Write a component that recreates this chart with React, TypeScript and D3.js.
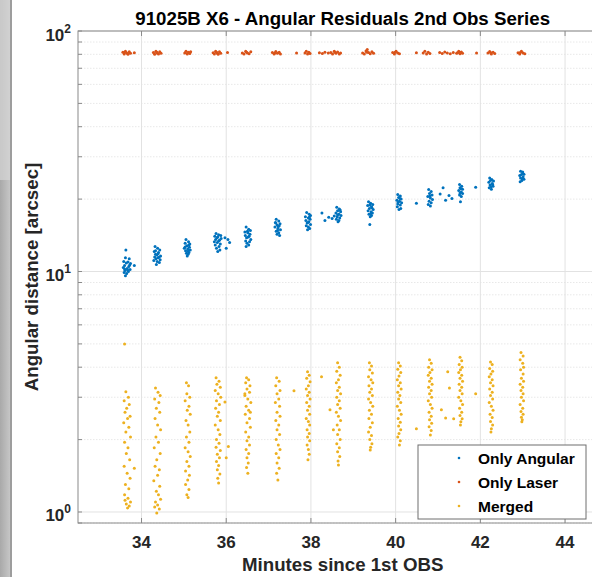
import React from 'react';
import * as d3 from 'd3';

const W = 592;
const H = 577;

const titleText = '91025B X6 - Angular Residuals 2nd Obs Series';
const xLabelText = 'Minutes since 1st OBS';
const yLabelText = 'Angular distance [arcsec]';
const xTicks = [34, 36, 38, 40, 42, 44];
const yDecades = [1, 10, 100];
const yDecadeExp = ['0', '1', '2'];
const seriesNames = ['Only Angular', 'Only Laser', 'Merged'];
const seriesColors = ['#0072BD', '#D95319', '#EDB120'];

// [minutes, arcsec]
const onlyAngular: [number, number][] = [
  [33.63,12.3],[33.62,11.4],[33.71,11.3],[33.58,11.0],[33.68,10.95],[33.74,10.8],[33.60,10.6],[33.70,10.5],[33.57,10.4],[33.66,10.3],[33.73,10.2],[33.61,10.1],[33.69,10.0],[33.59,9.9],[33.65,9.8],[33.62,9.6],[33.72,10.65],[33.64,10.85],[33.67,10.15],[33.60,10.25],[33.83,10.6],
  [34.32,12.7],[34.38,12.5],[34.43,12.3],[34.30,12.1],[34.40,12.0],[34.33,11.8],[34.36,11.7],[34.45,11.6],[34.31,11.5],[34.39,11.4],[34.34,11.3],[34.44,11.2],[34.29,11.1],[34.37,11.0],[34.42,10.9],[34.35,10.7],[34.41,11.45],[34.33,12.2],[34.39,11.85],
  [35.05,13.6],[35.11,13.3],[35.03,13.1],[35.14,13.0],[35.07,12.8],[35.13,12.6],[35.01,12.5],[35.09,12.4],[35.15,12.3],[35.04,12.2],[35.12,12.0],[35.06,11.9],[35.10,11.8],[35.08,11.6],[35.12,12.9],[35.03,12.65],[35.10,12.15],
  [35.76,14.4],[35.82,14.2],[35.87,14.1],[35.73,14.0],[35.80,13.9],[35.88,13.7],[35.75,13.6],[35.84,13.5],[35.72,13.3],[35.79,13.2],[35.86,13.0],[35.74,12.9],[35.83,12.7],[35.77,12.5],[35.85,12.3],[35.80,12.1],[35.78,13.8],[35.82,13.4],[35.97,13.8],[36.04,13.6],[36.08,13.2],[36.00,12.5],
  [36.47,15.3],[36.53,15.0],[36.57,14.8],[36.44,14.6],[36.51,14.5],[36.56,14.3],[36.45,14.1],[36.54,14.0],[36.48,13.8],[36.58,13.6],[36.46,13.4],[36.55,13.3],[36.49,13.1],[36.53,12.9],[36.47,12.7],[36.52,13.9],[36.50,14.7],
  [37.18,16.5],[37.24,16.2],[37.16,16.0],[37.27,15.8],[37.20,15.6],[37.25,15.5],[37.15,15.3],[37.22,15.1],[37.28,14.9],[37.18,14.7],[37.24,14.5],[37.20,14.3],[37.26,14.1],[37.17,15.9],[37.23,15.4],[37.21,14.8],
  [37.90,17.6],[37.96,17.3],[37.99,17.1],[37.87,16.9],[37.94,16.7],[37.98,16.5],[37.88,16.3],[37.95,16.1],[37.91,15.9],[37.99,15.7],[37.89,15.5],[37.94,15.3],[37.97,15.1],[37.92,14.9],[37.93,16.0],[37.96,16.8],[38.26,17.5],[38.33,16.3],[38.42,16.8],[38.50,16.6],[38.55,17.0],
  [38.61,18.5],[38.67,18.2],[38.63,17.9],[38.70,17.7],[38.59,17.5],[38.66,17.3],[38.71,17.1],[38.62,16.9],[38.68,16.7],[38.60,16.5],[38.66,16.3],[38.64,16.1],[38.69,18.0],[38.63,17.2],
  [39.36,19.5],[39.41,19.2],[39.46,19.0],[39.34,18.8],[39.43,18.6],[39.38,18.3],[39.47,18.1],[39.35,17.9],[39.42,17.7],[39.45,17.5],[39.37,17.3],[39.43,17.1],[39.40,16.9],[39.39,15.7],[39.44,18.4],[39.39,18.9],[39.41,17.4],
  [40.05,20.9],[40.11,20.6],[40.07,20.3],[40.13,20.0],[40.03,19.8],[40.09,19.6],[40.14,19.3],[40.05,19.1],[40.11,18.9],[40.04,18.6],[40.12,18.3],[40.08,18.1],[40.10,20.1],[40.06,19.4],[40.49,19.2],
  [40.78,21.9],[40.84,21.5],[40.80,21.1],[40.86,20.8],[40.76,20.5],[40.82,20.2],[40.87,19.9],[40.79,19.6],[40.84,19.3],[40.77,19.0],[40.82,18.7],[40.81,20.6],[41.05,21.0],[41.12,22.3],[41.18,19.8],[41.26,20.7],[41.33,20.1],
  [41.51,23.0],[41.56,22.6],[41.52,22.3],[41.58,22.0],[41.49,21.7],[41.55,21.4],[41.58,21.1],[41.51,20.8],[41.55,20.5],[41.53,19.5],[41.54,22.1],[41.52,21.2],[41.89,22.4],
  [42.22,24.5],[42.27,24.1],[42.31,23.8],[42.20,23.5],[42.28,23.2],[42.23,22.9],[42.30,22.6],[42.21,22.3],[42.26,22.0],[42.29,23.0],[42.24,23.9],[42.25,22.5],
  [42.95,26.1],[43.00,25.7],[43.03,25.4],[42.93,25.1],[43.01,24.8],[42.95,24.5],[43.03,24.2],[42.98,23.9],[42.94,23.6],[43.00,25.9],[42.97,25.3],[42.99,24.3],
];

const onlyLaser: [number, number][] = [
  [33.56,81.5],[33.59,80.2],[33.62,82.4],[33.65,81.0],[33.68,80.0],[33.71,82.0],[33.74,80.9],[33.60,81.3],[33.83,81.2],
  [34.28,81.3],[34.31,80.1],[34.34,82.4],[34.37,81.0],[34.40,80.2],[34.43,81.9],[34.46,80.8],[34.36,81.6],
  [35.02,81.0],[35.05,82.3],[35.08,80.3],[35.11,81.5],[35.14,80.6],[35.16,82.0],[35.09,81.2],
  [35.69,81.2],[35.72,80.2],[35.75,82.4],[35.78,81.0],[35.81,80.1],[35.84,81.9],[35.87,80.9],[35.77,81.6],[36.03,81.3],
  [36.38,81.1],[36.42,80.2],[36.46,82.4],[36.50,81.0],[36.54,80.4],[36.58,81.9],[36.48,81.5],
  [37.09,81.4],[37.13,80.2],[37.17,82.2],[37.21,80.8],[37.25,81.6],[37.28,80.3],[37.15,81.1],[37.66,81.1],
  [37.86,81.0],[37.89,82.3],[37.92,80.3],[37.95,81.6],[37.98,80.7],[38.20,81.2],[38.27,80.7],[38.33,81.6],[38.41,81.0],
  [38.47,81.3],[38.51,80.2],[38.55,82.3],[38.59,80.8],[38.63,81.8],[38.67,80.3],[38.70,81.1],[38.57,81.5],
  [39.22,81.0],[39.26,80.2],[39.30,82.5],[39.33,83.8],[39.36,81.3],[39.40,80.4],[39.44,82.0],[39.48,80.9],[39.32,81.6],
  [39.93,81.3],[39.97,80.2],[40.01,82.3],[40.05,81.0],[40.09,80.4],[39.99,81.6],[40.49,81.2],
  [40.65,81.0],[40.69,82.3],[40.73,80.3],[40.77,81.6],[40.81,80.7],[41.04,81.3],[41.10,80.7],[41.16,81.8],[41.22,81.0],[41.29,80.5],[41.36,81.4],[41.44,80.9],
  [41.46,81.2],[41.49,82.4],[41.52,80.4],[41.55,81.8],[41.58,80.8],[41.51,81.4],[41.91,81.1],
  [42.18,81.0],[42.22,82.2],[42.26,80.3],[42.30,81.6],[42.34,80.7],[42.24,81.3],
  [42.89,81.2],[42.93,80.2],[42.97,82.3],[43.01,81.0],[43.05,80.5],[42.95,81.5],
];

const merged: [number, number][] = [
  [33.60,5.0],
  [33.63,3.16],[33.69,3.0],[33.59,2.9],[33.71,2.8],[33.65,2.7],[33.61,2.6],[33.73,2.5],[33.67,2.45],[33.58,2.35],[33.70,2.25],[33.63,2.15],[33.74,2.05],[33.60,1.95],[33.68,1.85],[33.64,1.75],[33.72,1.65],[33.59,1.55],[33.66,1.45],[33.73,1.38],[33.62,1.3],[33.70,1.25],[33.60,1.18],[33.68,1.14],[33.74,1.10],[33.64,1.08],[33.71,1.06],[33.61,1.12],[33.67,1.04],[33.83,1.52],
  [34.33,3.28],[34.39,3.15],[34.44,3.05],[34.31,2.95],[34.41,2.85],[34.35,2.7],[34.43,2.6],[34.32,2.45],[34.38,2.3],[34.45,2.2],[34.34,2.05],[34.40,1.95],[34.30,1.85],[34.44,1.75],[34.36,1.65],[34.32,1.55],[34.42,1.5],[34.38,1.42],[34.29,1.35],[34.43,1.28],[34.35,1.22],[34.40,1.18],[34.45,1.13],[34.33,1.1],[34.38,1.07],[34.42,1.03],[34.36,0.99],[34.31,1.05],
  [35.06,3.45],[35.11,3.35],[35.07,3.1],[35.14,3.0],[35.03,2.9],[35.12,2.75],[35.08,2.65],[35.15,2.55],[35.05,2.4],[35.10,2.3],[35.14,2.15],[35.06,2.05],[35.12,1.95],[35.03,1.85],[35.10,1.78],[35.15,1.7],[35.07,1.62],[35.12,1.55],[35.04,1.48],[35.13,1.42],[35.09,1.36],[35.04,1.3],[35.12,1.24],[35.07,1.18],[35.10,1.15],
  [35.76,3.62],[35.83,3.5],[35.78,3.4],[35.86,3.3],[35.74,3.2],[35.81,3.1],[35.87,3.0],[35.77,2.9],[35.84,2.8],[35.75,2.7],[35.82,2.6],[35.79,2.5],[35.86,2.4],[35.74,2.3],[35.81,2.2],[35.85,2.1],[35.77,2.0],[35.83,1.93],[35.76,1.86],[35.86,1.8],[35.79,1.74],[35.84,1.68],[35.77,1.62],[35.82,1.56],[35.79,1.5],[35.85,1.44],[35.80,1.38],[35.82,1.32],[35.97,2.87],[36.05,1.87],[36.00,1.68],
  [36.48,3.62],[36.53,3.55],[36.46,3.45],[36.56,3.35],[36.49,3.25],[36.55,3.15],[36.44,3.05],[36.51,2.95],[36.58,2.85],[36.47,2.75],[36.53,2.65],[36.45,2.55],[36.55,2.45],[36.49,2.35],[36.57,2.25],[36.46,2.15],[36.53,2.05],[36.49,1.98],[36.55,1.9],[36.47,1.82],[36.53,1.75],[36.49,1.68],[36.52,1.6],[36.48,1.53],[36.51,1.45],[36.57,2.6],[36.44,3.1],
  [37.19,3.62],[37.25,3.5],[37.17,3.35],[37.27,3.2],[37.20,3.1],[37.24,2.95],[37.16,2.85],[37.26,2.75],[37.20,2.6],[37.27,2.5],[37.17,2.4],[37.24,2.3],[37.20,2.2],[37.26,2.1],[37.18,2.0],[37.23,1.9],[37.27,1.82],[37.18,1.75],[37.24,1.68],[37.20,1.6],[37.25,1.52],[37.19,1.45],[37.22,1.36],[37.60,3.19],
  [37.92,3.83],[37.96,3.7],[37.90,3.6],[37.98,3.48],[37.94,3.35],[37.89,3.25],[37.96,3.15],[37.92,3.05],[37.98,2.95],[37.90,2.85],[37.96,2.75],[37.92,2.65],[37.97,2.55],[37.89,2.45],[37.94,2.38],[37.97,2.3],[37.91,2.2],[37.96,2.12],[37.92,2.05],[37.97,1.98],[37.91,1.9],[37.94,1.82],[37.96,1.74],[37.93,1.65],
  [38.63,4.17],[38.67,4.0],[38.61,3.85],[38.69,3.7],[38.65,3.55],[38.60,3.45],[38.67,3.3],[38.63,3.2],[38.70,3.1],[38.61,3.0],[38.67,2.9],[38.63,2.8],[38.69,2.7],[38.60,2.6],[38.65,2.5],[38.70,2.4],[38.62,2.3],[38.67,2.2],[38.63,2.1],[38.69,2.0],[38.61,1.92],[38.67,1.85],[38.63,1.78],[38.68,1.7],[38.64,1.63],[38.65,1.57],[38.25,3.65],[38.45,2.66],[38.53,2.2],
  [39.38,4.17],[39.43,4.05],[39.39,3.9],[39.45,3.78],[39.36,3.65],[39.42,3.55],[39.46,3.45],[39.37,3.35],[39.43,3.25],[39.39,3.15],[39.45,3.05],[39.36,2.95],[39.41,2.85],[39.46,2.75],[39.38,2.65],[39.43,2.55],[39.37,2.45],[39.45,2.35],[39.40,2.25],[39.36,2.15],[39.43,2.08],[39.39,2.0],[39.44,1.92],[39.41,1.86],[39.40,1.81],
  [40.07,4.17],[40.11,4.05],[40.05,3.92],[40.12,3.8],[40.08,3.68],[40.04,3.55],[40.11,3.45],[40.07,3.35],[40.13,3.25],[40.05,3.15],[40.10,3.05],[40.07,2.95],[40.12,2.85],[40.04,2.75],[40.09,2.65],[40.13,2.55],[40.06,2.45],[40.11,2.36],[40.07,2.28],[40.12,2.2],[40.08,2.12],[40.05,2.05],[40.11,1.98],[40.09,1.9],[40.49,2.22],
  [40.80,4.3],[40.84,4.15],[40.78,4.0],[40.86,3.9],[40.81,3.8],[40.77,3.7],[40.84,3.6],[40.80,3.5],[40.86,3.4],[40.78,3.3],[40.84,3.2],[40.80,3.1],[40.85,3.0],[40.77,2.9],[40.82,2.8],[40.86,2.7],[40.79,2.6],[40.84,2.5],[40.80,2.42],[40.85,2.34],[40.79,2.26],[40.84,2.18],[40.82,2.09],[41.23,3.83],[41.27,3.28],[41.08,2.66],[41.18,2.46],[41.37,2.44],
  [41.52,4.4],[41.56,4.25],[41.50,4.1],[41.57,4.0],[41.53,3.9],[41.49,3.8],[41.56,3.7],[41.52,3.6],[41.58,3.5],[41.50,3.4],[41.56,3.3],[41.52,3.2],[41.57,3.1],[41.49,3.0],[41.54,2.9],[41.58,2.8],[41.51,2.7],[41.56,2.6],[41.52,2.52],[41.57,2.44],[41.54,2.37],[41.53,2.3],[41.89,3.1],
  [42.24,4.2],[42.28,4.1],[42.22,3.95],[42.29,3.85],[42.25,3.75],[42.21,3.65],[42.28,3.55],[42.24,3.45],[42.30,3.35],[42.22,3.25],[42.28,3.15],[42.24,3.05],[42.29,2.95],[42.21,2.85],[42.26,2.75],[42.30,2.65],[42.23,2.55],[42.28,2.47],[42.24,2.38],[42.29,2.3],[42.26,2.22],[42.25,2.15],
  [42.96,4.6],[43.01,4.45],[42.94,4.3],[43.00,4.15],[43.02,4.0],[42.95,3.9],[43.01,3.75],[42.97,3.6],[43.02,3.5],[42.94,3.4],[43.00,3.3],[42.96,3.2],[43.01,3.1],[42.97,3.0],[43.02,2.9],[42.94,2.8],[43.00,2.7],[42.96,2.62],[43.01,2.55],[42.97,2.48],[42.99,2.42],[42.98,2.37],
];

const FONT = '"Liberation Sans", Arial, Helvetica, sans-serif';
const INK = '#262626';

export default function App() {
  const left = 78, top = 31, bottom = 523, right = 607.4;
  const x = d3.scaleLinear().domain([32.5, 45]).range([left, right]);
  const y = d3.scaleLog().domain([0.9, 100]).range([bottom, top]);
  const minorTicks = y.ticks().filter((v) => !yDecades.includes(v));
  const series = [onlyAngular, onlyLaser, merged];
  const r = 1.5;

  return (
    <svg
      width={W}
      height={H}
      viewBox={`0 0 ${W} ${H}`}
      style={{ position: 'absolute', left: 0, top: 0, background: '#fff' }}
      fontFamily={FONT}
    >
      <defs>
        <linearGradient id="edge" x1="0" x2="1" y1="0" y2="0">
          <stop offset="0" stopColor="#a9a9a9" />
          <stop offset="1" stopColor="#c9c9c9" />
        </linearGradient>
        <clipPath id="plot">
          <rect x={left} y={top} width={right - left} height={bottom - top} />
        </clipPath>
      </defs>
      <rect x={0} y={0} width={W} height={H} fill="#fff" />
      {/* window edge strip */}
      <rect x={0} y={0} width={11} height={H} fill="url(#edge)" />
      <rect x={0} y={0} width={11} height={180} fill="#d6d6d6" opacity={0.7} />
      <rect x={10} y={0} width={2} height={H} fill="#9d9d9d" />

      {/* grid */}
      <g>
        {minorTicks.map((v) => (
          <line key={'mg' + v} x1={left} x2={right} y1={y(v)} y2={y(v)} stroke="#e8e8e8" strokeDasharray="1.5,1.5" />
        ))}
        {yDecades.map((v) => (
          <line key={'yg' + v} x1={left} x2={right} y1={y(v)} y2={y(v)} stroke="#e2e2e2" />
        ))}
        {xTicks.map((v) => (
          <line key={'xg' + v} x1={x(v)} x2={x(v)} y1={top} y2={bottom} stroke="#e2e2e2" />
        ))}
      </g>

      {/* data */}
      <g clipPath="url(#plot)">
        {series.map((pts, si) => (
          <g key={si} fill={seriesColors[si]}>
            {pts.map(([m, v], i) => (
              <circle key={i} cx={x(m)} cy={y(v)} r={r} />
            ))}
          </g>
        ))}
      </g>

      {/* axes box and ticks */}
      <g stroke="#8a8a8a" strokeWidth={1} fill="none">
        <rect x={left} y={top} width={right - left} height={bottom - top} />
        {xTicks.map((v) => (
          <g key={'xt' + v}>
            <line x1={x(v)} x2={x(v)} y1={bottom} y2={bottom - 5} />
            <line x1={x(v)} x2={x(v)} y1={top} y2={top + 5} />
          </g>
        ))}
        {y.ticks().map((v) => (
          <line key={'yt' + v} x1={left} x2={left + 4} y1={y(v)} y2={y(v)} />
        ))}
      </g>

      {/* tick labels */}
      <g fill={INK} fontWeight="bold" fontSize={17}>
        {xTicks.map((v) => (
          <text key={'xl' + v} x={x(v)} y={bottom + 25} textAnchor="middle">
            {v}
          </text>
        ))}
        {yDecades.map((v, i) => (
          <text key={'yl' + v} x={71} y={y(v) + 9.5} textAnchor="end">
            10
            <tspan fontSize={12} dy={-8}>
              {yDecadeExp[i]}
            </tspan>
          </text>
        ))}
      </g>

      {/* title and axis labels */}
      <text x={(left + right) / 2} y={25} textAnchor="middle" fontWeight="bold" fontSize={18.7} fill="#000">
        {titleText}
      </text>
      <text x={(left + right) / 2} y={571} textAnchor="middle" fontWeight="bold" fontSize={18.7} fill={INK}>
        {xLabelText}
      </text>
      <text
        transform={`translate(38, ${(top + bottom) / 2}) rotate(-90)`}
        textAnchor="middle"
        fontWeight="bold"
        fontSize={18.7}
        fill={INK}
      >
        {yLabelText}
      </text>

      {/* legend */}
      <g>
        <rect x={418} y={445} width={168} height={74} fill="#fff" stroke="#6e6e6e" />
        {seriesNames.map((name, i) => (
          <g key={name}>
            <circle cx={459} cy={458 + i * 24} r={1.3} fill={seriesColors[i]} />
            <text x={478} y={458 + i * 24 + 5.5} fontSize={15.5} fontWeight="bold" fill="#000">
              {name}
            </text>
          </g>
        ))}
      </g>
    </svg>
  );
}
